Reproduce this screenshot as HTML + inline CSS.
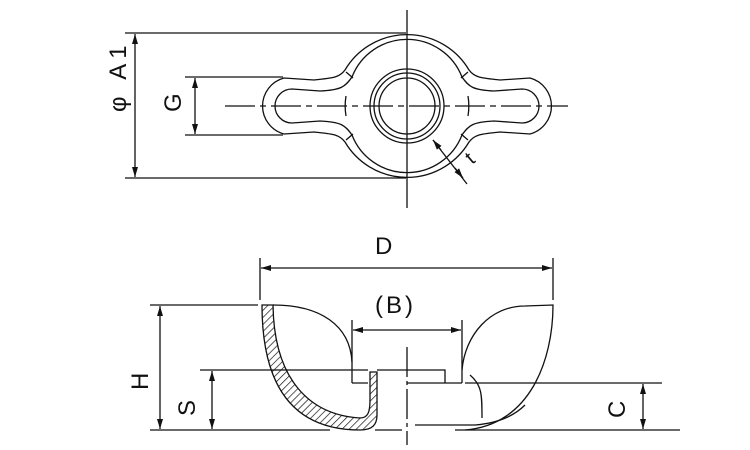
<!DOCTYPE html>
<html><head><style>body{margin:0;background:#fff}svg{display:block}</style></head><body>
<svg width="750" height="450" viewBox="0 0 750 450" xmlns="http://www.w3.org/2000/svg" font-family="Liberation Sans, sans-serif">
<defs>
<marker id="a" viewBox="0 0 10 6" refX="10" refY="3" markerWidth="10" markerHeight="6" orient="auto-start-reverse" markerUnits="userSpaceOnUse"><path d="M0,0 L10,3 L0,6z" fill="#111"/></marker>
<pattern id="h" width="5" height="5" patternUnits="userSpaceOnUse" patternTransform="rotate(45)"><line x1="0" y1="0" x2="0" y2="5" stroke="#111" stroke-width="1.4"/></pattern>
</defs>
<g stroke="#111" stroke-width="1.3" fill="none">
<line x1="407" y1="10" x2="407" y2="208"/>
<line x1="225" y1="106" x2="568" y2="106" stroke-dasharray="30,5,6,5"/>
<line x1="125" y1="33" x2="406" y2="33"/>
<line x1="125" y1="178" x2="406" y2="178"/>
<line x1="135" y1="34" x2="135" y2="177" marker-start="url(#a)" marker-end="url(#a)"/>
<line x1="185" y1="77" x2="283" y2="77"/>
<line x1="185" y1="135" x2="283" y2="135"/>
<line x1="195" y1="78" x2="195" y2="134" marker-start="url(#a)" marker-end="url(#a)"/>
<path d="M345,70 A72,72 0 0 1 469,70 C475,78 482,78 500,80 L530,78 A29,29 0 0 1 530,134 L500,132 C482,134 475,134 469,142 A72,72 0 0 1 345,142 C339,134 332,134 314,132 L284,134 A29,29 0 0 1 284,78 L314,80 C332,78 339,78 345,70Z"/>
<path d="M346,72 L353,78 M468,72 L461,78 M346,140 L353,134 M468,140 L461,134"/>
<path d="M352,77 A59,59 0 0 1 462,77 M352,135 A59,59 0 0 0 462,135"/>
<path d="M352,77 C345,87 341,90 320,91 L292,89 A17,17 0 0 0 292,123 L320,121 C341,122 345,125 352,135"/>
<path d="M462,77 C469,87 473,90 494,91 L522,89 A17,17 0 0 1 522,123 L494,121 C473,122 469,125 462,135"/>
<path d="M346,96 A61,61 0 0 0 346,116 M468,96 A61,61 0 0 1 468,116"/>
<circle cx="407" cy="106" r="37"/>
<circle cx="407" cy="106" r="33"/>
<circle cx="407" cy="106" r="28"/>
<line x1="433" y1="140" x2="467" y2="184"/>
<path d="M433,140 L441,150" marker-start="url(#a)"/>
<path d="M455,168 L463,178" marker-end="url(#a)"/>
<line x1="260" y1="258" x2="260" y2="300"/>
<line x1="553" y1="258" x2="553" y2="300"/>
<line x1="261" y1="268" x2="552" y2="268" marker-start="url(#a)" marker-end="url(#a)"/>
<line x1="352" y1="320" x2="352" y2="383"/>
<line x1="462" y1="320" x2="462" y2="383"/>
<line x1="353" y1="330" x2="461" y2="330" marker-start="url(#a)" marker-end="url(#a)"/>
<line x1="150" y1="305" x2="258" y2="305"/>
<line x1="150" y1="430" x2="330" y2="430"/>
<line x1="375" y1="430" x2="402" y2="430"/>
<line x1="455" y1="430" x2="680" y2="430"/>
<line x1="160" y1="306" x2="160" y2="429" marker-start="url(#a)" marker-end="url(#a)"/>
<line x1="200" y1="370" x2="368" y2="370"/>
<line x1="212" y1="371" x2="212" y2="429" marker-start="url(#a)" marker-end="url(#a)"/>
<line x1="465" y1="383" x2="662" y2="383"/>
<line x1="643" y1="384" x2="643" y2="429" marker-start="url(#a)" marker-end="url(#a)"/>
<line x1="407" y1="347" x2="407" y2="445" stroke-dasharray="30,4,4,4"/>
<path d="M262,305 L273,305 C274,380 310,415 360,418 C368,418 370,412 370,400 L370,372 L377,372 L377,415 C377,425 372,430 360,430 C300,430 262,395 262,305Z" fill="url(#h)"/>
<path d="M273,305 C320,305 350,325 352,362"/>
<path d="M377,370 L445,370 L445,383 M352,383 L368,383 M407,383 L462,383"/>
<path d="M462,370 C465,335 490,306 525,306 L553,305 C553,360 530,425 465,430"/>
<path d="M470,375 C482,385 482,395 482,418 M415,425 L475,425 C500,423 515,415 525,405"/>
</g>
<g fill="#111" font-size="24">
<text x="375" y="254">D</text>
<text x="375" y="313" letter-spacing="3">(B)</text>
<text transform="translate(126,112) rotate(-90)" letter-spacing="5">φ A1</text>
<text transform="translate(181,112) rotate(-90)">G</text>
<text transform="translate(148,390) rotate(-90)">H</text>
<text transform="translate(195,416) rotate(-90)">S</text>
<text transform="translate(625,418) rotate(-90)">C</text>
<text transform="translate(472,165) rotate(-40)" font-size="20">t</text>
</g>
</svg>
</body></html>
